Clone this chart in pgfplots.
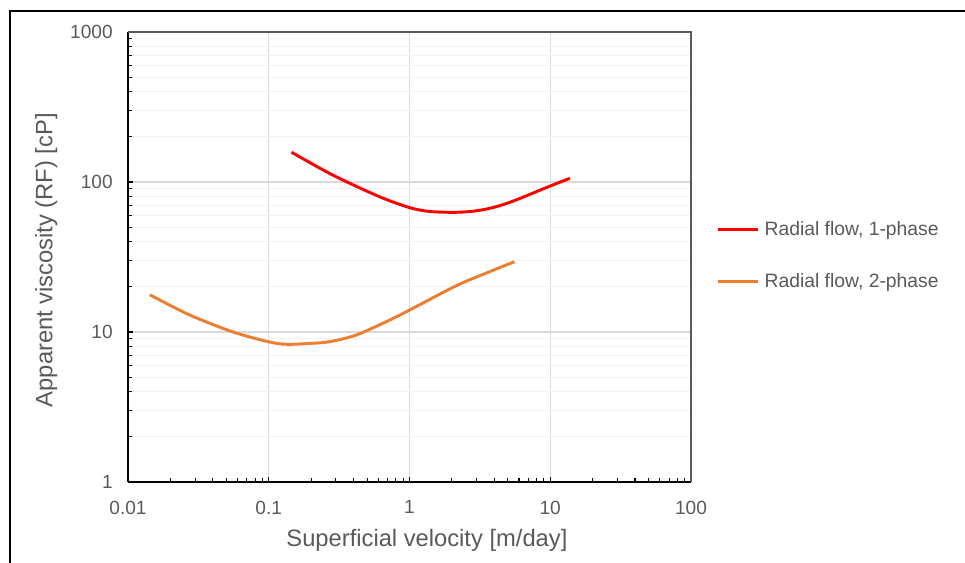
\documentclass[border=0pt]{standalone}
\usepackage{pgfplots}
\pgfplotsset{compat=1.18}
\usepackage{fontspec}
\setmainfont{Liberation Sans}
\definecolor{txt}{HTML}{595959}
\definecolor{xred}{HTML}{FF0000}
\definecolor{xorange}{HTML}{ED7D31}
\begin{document}
\begin{tikzpicture}
\path[use as bounding box] (0pt,0pt) rectangle (723.75pt,421.5pt);
\draw[line width=0.9pt,black] (7.5pt,-2pt) -- (7.5pt,413.25pt) -- (730pt,413.25pt);
\begin{axis}[
  at={(96pt,60pt)}, anchor=south west,
  scale only axis, width=422.25pt, height=337.5pt,
  xmode=log, ymode=log,
  xmin=0.01, xmax=100, ymin=1, ymax=1000,
  xtick={0.01,0.1,1,10,100}, xticklabels={0.01,0.1,1,10,100},
  ytick={1,10,100,1000}, yticklabels={1,10,100,1000},
  axis x line*=bottom, axis y line*=left,
  axis line style={line width=1.1pt,black,-},
  tick align=inside,
  major tick length=4pt, minor tick length=3pt,
  every tick/.style={black,line width=0.8pt},
  xmajorgrids, ymajorgrids, yminorgrids, xminorgrids=false,
  major grid style={gray!30,line width=0.8pt},
  minor grid style={gray!10,line width=0.8pt},
  tick label style={font=\fontsize{14.3}{16}\selectfont,text=txt},
  xticklabel style={yshift=-10.5pt},
  yticklabel style={xshift=-8pt},
  xlabel={Superficial velocity [m/day]},
  ylabel={Apparent viscosity (RF) [cP]},
  label style={font=\fontsize{17.8}{20}\selectfont,text=txt},
  xlabel style={at={(axis description cs:0.531,-0.13)},anchor=center},
  ylabel style={at={(axis description cs:-0.145,0.493)},anchor=center,rotate=0},
  clip=false,
  legend style={at={(1.045,0.503)},anchor=west,draw=none,fill=none,
    font=\fontsize{14.5}{16}\selectfont,text=txt,
    row sep=23pt, inner sep=0pt, outer sep=0pt},
  legend cell align=left,
  legend image code/.code={\draw[#1] (0pt,0pt) -- (30pt,0pt); \path (32pt,0pt);},
]
\addplot[xred,line width=2.2pt,smooth,tension=0.5] coordinates {
(0.145,158) (0.286,111) (0.612,79.8) (1.0,67.5) (1.39,63.6) (2.14,62.8) (3.0,64.3) (4.12,68.4) (5.71,75.9) (9.84,93.5) (13.8,105.9)
};
\addlegendentry{Radial flow, 1-phase}
\addplot[xorange,line width=2.2pt,smooth,tension=0.5] coordinates {
(0.0143,17.7) (0.0275,12.97) (0.0558,10.0) (0.1,8.6) (0.134,8.28) (0.2,8.4) (0.271,8.62) (0.419,9.55) (0.721,12.0) (1.0,14.0) (2.14,20.3) (3.69,25.2) (5.56,29.4)
};
\addlegendentry{Radial flow, 2-phase}
\draw[gray!70!black,line width=0.8pt] (rel axis cs:0,1) -- (rel axis cs:1,1) -- (rel axis cs:1,0);
\end{axis}
\end{tikzpicture}
\end{document}
